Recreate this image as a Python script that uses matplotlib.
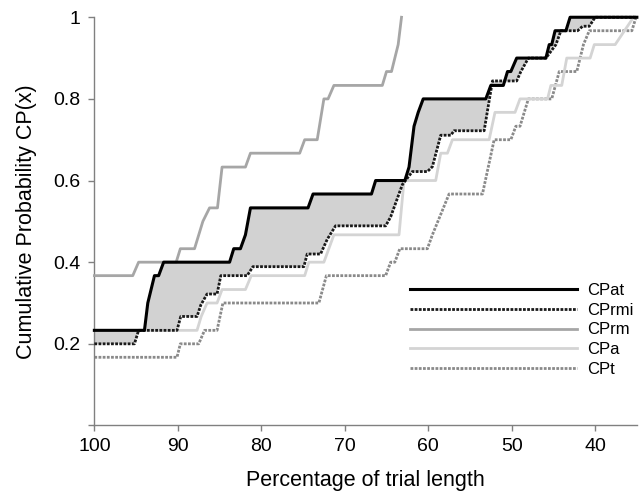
import numpy as np
import matplotlib
matplotlib.use("Agg")
import matplotlib.pyplot as plt

plt.rcParams['font.family'] = ['Liberation Sans', 'DejaVu Sans']

# ---------------- data ----------------
# x = percentage of trial length, y = cumulative probability
cpat_x = [100, 94.0, 93.6, 92.8, 92.3, 91.7, 83.8, 83.3, 82.5, 81.9, 81.3, 74.4, 73.8,
          66.8, 66.3, 62.8, 62.3, 61.7, 61.2, 60.6, 53.1, 52.5, 51.0, 50.5, 50.1, 49.4,
          45.9, 45.5, 45.2, 44.8, 43.5, 43.0, 35]
cpat_y = [0.233, 0.233, 0.300, 0.367, 0.367, 0.400, 0.400, 0.433, 0.433, 0.467, 0.533, 0.533, 0.567,
          0.567, 0.600, 0.600, 0.633, 0.733, 0.767, 0.800, 0.800, 0.833, 0.833, 0.867, 0.867, 0.900,
          0.900, 0.933, 0.933, 0.967, 0.967, 1.0, 1.0]

cprmi_x = [100, 95.2, 94.7, 90.1, 89.65, 87.7, 87.25, 86.5, 85.3, 84.85, 81.7, 81.0, 74.9, 74.5,
           72.9, 72.1, 71.1, 65.1, 64.5, 63.1, 61.9, 60.1, 59.5, 58.5, 57.3, 56.9, 53.3, 52.3,
           49.4, 48.9, 48.0, 45.9, 44.7, 44.1, 42.1, 41.5, 40.7, 40.0, 35]
cprmi_y = [0.200, 0.200, 0.233, 0.233, 0.267, 0.267, 0.295, 0.322, 0.322, 0.367, 0.367, 0.389, 0.389, 0.420,
           0.420, 0.456, 0.489, 0.489, 0.511, 0.590, 0.622, 0.622, 0.634, 0.711, 0.711, 0.722, 0.722, 0.844,
           0.844, 0.867, 0.900, 0.900, 0.933, 0.967, 0.967, 0.978, 0.978, 1.0, 1.0]

cprm_x = [100, 95.4, 94.7, 90.2, 89.7, 88.0, 87.0, 86.2, 85.25, 84.7, 81.9, 81.3, 75.4, 74.8,
          73.3, 72.5, 72.0, 71.3, 65.5, 65.0, 64.4, 63.6, 63.2]
cprm_y = [0.367, 0.367, 0.400, 0.400, 0.433, 0.433, 0.500, 0.533, 0.533, 0.633, 0.633, 0.667, 0.667, 0.700,
          0.700, 0.800, 0.800, 0.833, 0.833, 0.867, 0.867, 0.933, 1.0]

cpa_x = [100, 87.7, 87.2, 86.5, 85.3, 84.7, 81.9, 81.2, 74.8, 74.3, 72.5, 71.3, 63.5, 62.9,
         59.1, 58.5, 57.7, 57.1, 52.7, 52.0, 49.6, 49.0, 45.7, 45.3, 44.0, 43.4, 40.6, 40.1,
         37.6, 35.4]
cpa_y = [0.233, 0.233, 0.267, 0.300, 0.300, 0.333, 0.333, 0.367, 0.367, 0.400, 0.400, 0.467, 0.467, 0.600,
         0.600, 0.667, 0.667, 0.700, 0.700, 0.767, 0.767, 0.800, 0.800, 0.833, 0.833, 0.900, 0.900, 0.933,
         0.933, 1.0]

cpt_x = [100, 90.1, 89.7, 87.5, 86.8, 85.3, 84.6, 73.1, 72.2, 65.1, 64.5, 64.0, 63.4, 60.1,
         59.5, 57.5, 53.5, 52.1, 50.1, 49.5, 49.0, 48.0, 45.2, 44.3, 42.2, 41.4, 40.7, 35.6, 35.1]
cpt_y = [0.167, 0.167, 0.200, 0.200, 0.233, 0.233, 0.300, 0.300, 0.367, 0.367, 0.400, 0.400, 0.433, 0.433,
         0.467, 0.567, 0.567, 0.700, 0.700, 0.733, 0.733, 0.800, 0.800, 0.867, 0.867, 0.933, 0.967, 0.967, 1.0]

x_ticks = [100, 90, 80, 70, 60, 50, 40]
y_ticks = [0, 0.2, 0.4, 0.6, 0.8, 1]
y_tick_labels = ['', '0.2', '0.4', '0.6', '0.8', '1']

# ---------------- plot ----------------
fig = plt.figure(figsize=(6.42, 4.93), dpi=100)
ax = fig.add_axes([0.147, 0.137, 0.845, 0.828])

# shaded area between CPat and CPrmi
poly_x = np.concatenate([cpat_x, cprmi_x[::-1]])
poly_y = np.concatenate([cpat_y, cprmi_y[::-1]])
ax.fill(poly_x, poly_y, color='#d2d2d2', lw=0, zorder=1)

l_t, = ax.plot(cpt_x, cpt_y, color='#8a8a8a', lw=2.0, ls=(0, (1.0, 0.5)), zorder=2, clip_on=False)
l_a, = ax.plot(cpa_x, cpa_y, color='#d4d4d4', lw=2.0, zorder=2, clip_on=False)
l_rm, = ax.plot(cprm_x, cprm_y, color='#a6a6a6', lw=2.0, zorder=3, clip_on=False)
l_rmi, = ax.plot(cprmi_x, cprmi_y, color='#1a1a1a', lw=2.0, ls=(0, (1.0, 0.5)), zorder=4, clip_on=False)
l_at, = ax.plot(cpat_x, cpat_y, color='black', lw=2.2, zorder=5, clip_on=False)

ax.set_xlim(100, 35)
ax.set_ylim(0, 1)
ax.set_xticks(x_ticks)
ax.set_yticks(y_ticks)
ax.set_yticklabels(y_tick_labels)

for s in ['top', 'right']:
    ax.spines[s].set_visible(False)
for s in ['left', 'bottom']:
    ax.spines[s].set_color('#808080')
    ax.spines[s].set_linewidth(1.0)
ax.tick_params(axis='both', colors='#808080', length=4, width=1, labelsize=14, labelcolor='black')
ax.tick_params(axis='x', pad=5)
ax.tick_params(axis='y', pad=6)

ax.set_xlabel('Percentage of trial length', fontsize=15.5, labelpad=11)
ax.set_ylabel('Cumulative Probability CP(x)', fontsize=15.5, labelpad=12)

leg = ax.legend([l_at, l_rmi, l_rm, l_a, l_t], ['CPat', 'CPrmi', 'CPrm', 'CPa', 'CPt'],
                frameon=False, fontsize=12, handlelength=10.0, handletextpad=0.6,
                labelspacing=0.28, loc='upper left', bbox_to_anchor=(0.57, 0.365), borderaxespad=0)

fig.savefig('out.png', dpi=100)
